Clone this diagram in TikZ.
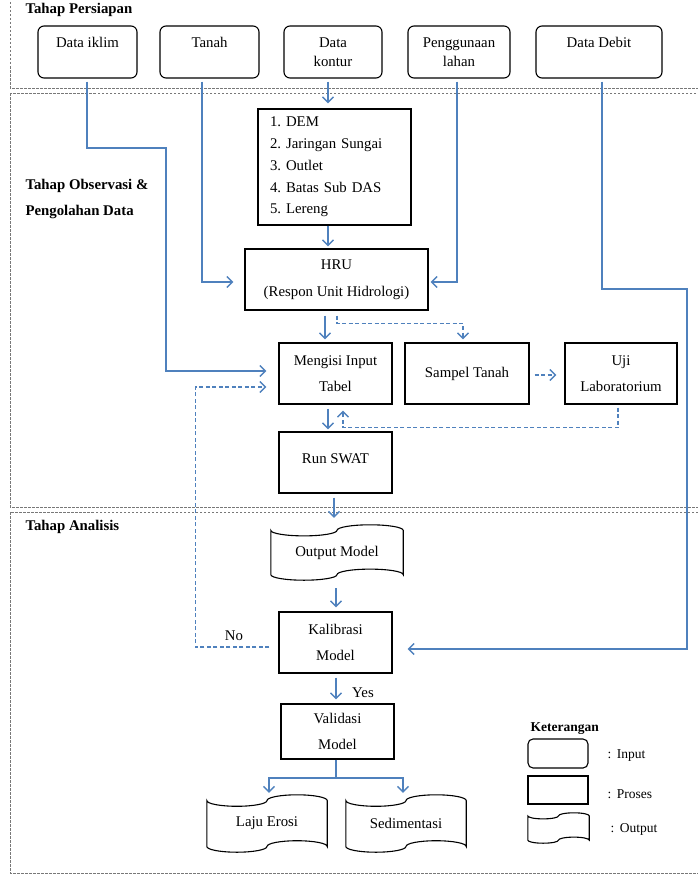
\documentclass[tikz,border=0pt]{standalone}
\usepackage{fontspec}
\setmainfont{Liberation Serif}
\frenchspacing
\usepackage{tikz}
\usetikzlibrary{
  arrows.meta,   % Straight Barb 箭头
  calc,          % let 坐标计算
  positioning    % 节点相对定位
}
\definecolor{flowblue}{RGB}{79,129,189}
\definecolor{stagegray}{RGB}{120,120,120}
\newcommand{\fsz}[2]{\fontsize{#1}{#2}\selectfont}

% 纸带形输出框：按节点的四角画出上下波浪边
\newcommand{\tapeline}[1]{%
  \draw[line width=1.1pt] let \p1=(#1.south west), \p2=(#1.north east),
    \n1={(\x2-\x1)/4}, \n2={(\y2-\y1)/10} in
    (\x1,\y2-\n2)
    arc[start angle=180, end angle=360, x radius=\n1, y radius=\n2]
    arc[start angle=180, end angle=0, x radius=\n1, y radius=\n2]
    -- (\x2,\y1+\n2)
    arc[start angle=0, end angle=180, x radius=\n1, y radius=\n2]
    arc[start angle=0, end angle=-180, x radius=\n1, y radius=\n2]
    -- cycle;}

\begin{document}
\begin{tikzpicture}[x=1pt, y=-1pt, % 按像素坐标排版，y 轴向下
  inbox/.style={draw, rounded corners=6pt, line width=1.1pt, inner sep=0pt, align=center, font=\fsz{14.8}{19}},
  procbox/.style={draw, line width=1.1pt, inner sep=0pt, align=center, font=\fsz{14.8}{25.5}},
  tapebox/.style={inner sep=0pt, align=center, font=\fsz{14.8}{18}},
  flowline/.style={draw=flowblue, line width=1.4pt},
  flow/.style={flowline, -{Straight Barb[length=5.5pt,width=11pt]}},
  flowdash/.style={flow, dash pattern=on 4pt off 2.5pt},
  stage/.style={draw=stagegray, line width=0.9pt, dash pattern=on 2.5pt off 1.5pt},
  stagelabel/.style={anchor=west, align=left, font=\fsz{14.8}{26}\bfseries},
  legtext/.style={anchor=west, font=\fsz{13.5}{16}}]

  \useasboundingbox (0,0) rectangle (698,875);

  % =============== 三个阶段的虚线框 ===============
  \draw[stage] (10,-2) rectangle (701,88);
  \draw[stage] (10,93) rectangle (701,507);
  \draw[stage] (10,512) rectangle (701,873);
  \node[stagelabel] (stageprep) at (22,10) {Tahap Persiapan};
  \node[stagelabel] (stageobs) at (22,199) {Tahap Observasi \&\\Pengolahan Data};
  \node[stagelabel] (stageana) at (22,527) {Tahap Analisis};

  % =============== 输入数据 ===============
  \node[inbox, minimum width=99pt, minimum height=52pt] (iklim) at (87.5,52) {Data iklim\\\mbox{}};
  \node[inbox, minimum width=99pt, minimum height=52pt] (tanah) at (209.5,52) {Tanah\\\mbox{}};
  \node[inbox, minimum width=98pt, minimum height=52pt] (kontur) at (333,52) {Data\\kontur};
  \node[inbox, minimum width=102pt, minimum height=52pt] (guna) at (459,52) {Penggunaan\\lahan};
  \node[inbox, minimum width=126pt, minimum height=52pt] (debit) at (599,52) {Data Debit\\\mbox{}};

  % =============== 观测与数据处理 ===============
  \node[procbox, minimum width=153pt, minimum height=116pt, align=left, text width=129pt,
        inner xsep=12pt, font=\fsz{14.8}{21.75}] (dem) at (334.5,167)
    {1. DEM\\2. Jaringan Sungai\\3. Outlet\\4. Batas Sub DAS\\5. Lereng};
  \node[procbox, minimum width=183pt, minimum height=61pt, font=\fsz{14.8}{27}] (hru) at (336.5,279.5)
    {HRU\\(Respon Unit Hidrologi)};
  \node[procbox, minimum width=113pt, minimum height=61pt] (isi) at (335.5,373.5) {Mengisi Input\\Tabel};
  \node[procbox, minimum width=124pt, minimum height=61pt] (sampel) at (467,373.5) {Sampel Tanah};
  \node[procbox, minimum width=112pt, minimum height=61pt] (uji) at (621,373.5) {Uji\\Laboratorium};
  \node[procbox, minimum width=113pt, minimum height=61pt] (swat) at (335.5,462.5) {\raisebox{8pt}{Run SWAT}};

  % =============== 分析 ===============
  \node[tapebox, minimum width=132pt, minimum height=55pt] (outmodel) at (337,552.5) {Output Model};
  \tapeline{outmodel}
  \node[procbox, minimum width=113pt, minimum height=61pt] (kalib) at (335.5,642.5) {Kalibrasi\\Model};
  \node[procbox, minimum width=113pt, minimum height=55pt] (valid) at (337.5,731.5) {Validasi\\Model};
  \node[tapebox, minimum width=120pt, minimum height=57pt] (erosi) at (267,823.5) {Laju Erosi};
  \tapeline{erosi}
  \node[tapebox, minimum width=120pt, minimum height=57pt] (sedimen) at (406,823.5) {Sedimentasi};
  \tapeline{sedimen}
  \node[font=\fsz{14.8}{18}] (no) at (234,636) {No};
  \node[font=\fsz{14.8}{18}] (yes) at (363,693) {Yes};

  % =============== 图例 ===============
  \node[anchor=west, font=\fsz{13.5}{16}\bfseries] (keter) at (527,729) {Keterangan};
  \node[inbox, rounded corners=5pt, minimum width=60pt, minimum height=29pt] (leginput) at (558,753.5) {};
  \node[procbox, minimum width=60pt, minimum height=28pt] (legproses) at (558,790) {};
  \node[tapebox, minimum width=61pt, minimum height=30pt] (legoutput) at (558.5,828) {};
  \tapeline{legoutput}
  \node[legtext] (txtinput) at (604,756) {:\,\ Input};
  \node[legtext] (txtproses) at (604,794) {:\,\ Proses};
  \node[legtext] (txtoutput) at (607,829) {:\,\ Output};

  % =============== 连线 ===============
  \draw[flow] ([xshift=-0.5pt,yshift=-3pt]iklim.south) |- (166,148) |- ([xshift=-12pt,yshift=2.5pt]isi.west);
  \draw[flow] ([xshift=-7.5pt,yshift=-3pt]tanah.south) |- ([xshift=-11pt,yshift=-2.5pt]hru.west);
  \draw[flow] ([xshift=-5pt,yshift=-3pt]kontur.south) -- ([xshift=-6.5pt,yshift=5pt]dem.north);
  \draw[flow] ([xshift=-2pt,yshift=-3pt]guna.south) |- ([xshift=2pt,yshift=-2.5pt]hru.east);
  \draw[flow] ([xshift=3pt,yshift=-3pt]debit.south) |- (687,289) |- ([xshift=15pt,yshift=-6.5pt]kalib.east);
  \draw[flow] ([xshift=-6.5pt]dem.south) -- ([xshift=-8.5pt,yshift=2pt]hru.north);
  \draw[flow] ([xshift=-11.5pt,yshift=-5pt]hru.south) -- ([xshift=-10.5pt,yshift=3pt]isi.north);
  \draw[flowdash] ([xshift=0.5pt,yshift=-5pt]hru.south) -- ++(0,8) -| ([xshift=-4pt,yshift=3pt]sampel.north);
  \draw[flowdash] ([xshift=5pt,yshift=-1.5pt]sampel.east) -- ([xshift=-8pt,yshift=-1.5pt]uji.west);
  \draw[flowdash] ([xshift=-3pt,yshift=-3pt]uji.south) |- ([xshift=7.5pt,yshift=-23pt]isi.south)
    -- ([xshift=7.5pt,yshift=-6pt]isi.south);
  \draw[flow] ([xshift=-7.5pt,yshift=-4pt]isi.south) -- ([xshift=-7.5pt,yshift=2pt]swat.north);
  \draw[flow] ([xshift=-1.5pt,yshift=-4pt]swat.south) -- ([xshift=-3pt,yshift=7pt]outmodel.north);
  \draw[flow] ([xshift=-1pt,yshift=-8pt]outmodel.south) -- ([xshift=0.5pt,yshift=4pt]kalib.north);
  \draw[flowdash] ([xshift=-9pt,yshift=-4.5pt]kalib.west) -| ([xshift=-83pt,yshift=-13.5pt]isi.west)
    -- ([xshift=-12pt,yshift=-13.5pt]isi.west);
  \draw[flow] ([xshift=0.5pt,yshift=-4pt]kalib.south) -- ([xshift=-1.5pt,yshift=4pt]valid.north);
  \coordinate (fork) at ([xshift=-1.5pt,yshift=-18.5pt]valid.south);
  \draw[flowline] ([xshift=-1.5pt]valid.south) -- (fork);
  \draw[flow] (fork) -| ([xshift=2pt,yshift=2pt]erosi.north);
  \draw[flow] (fork) -| ([xshift=-3pt,yshift=2pt]sedimen.north);

\end{tikzpicture}
\end{document}
